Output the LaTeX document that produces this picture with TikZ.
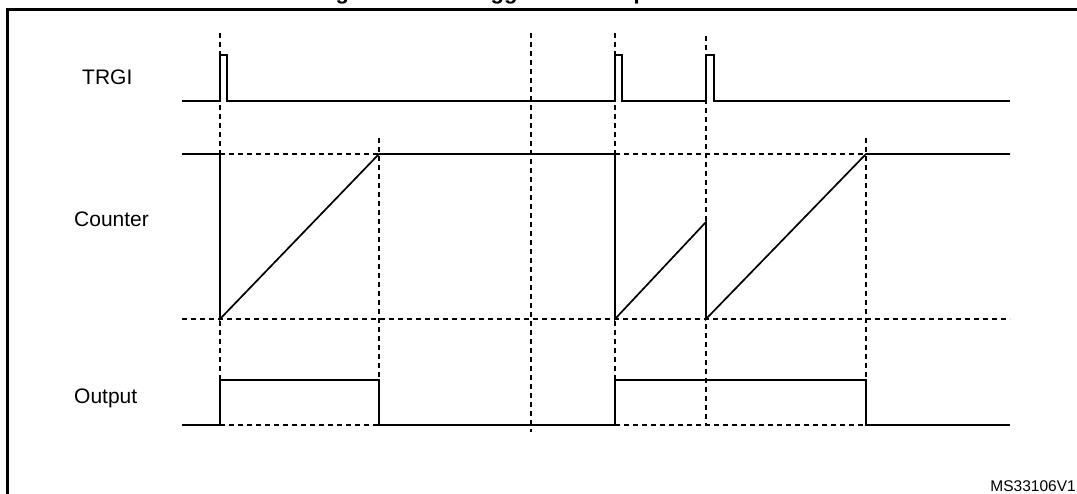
\documentclass[tikz,border=0pt]{standalone}
\usepackage{fontspec}
\setmainfont{Liberation Sans}
\begin{document}
\begin{tikzpicture}[x=1pt,y=-1pt,
  sig/.style={line width=1.7pt,line join=miter},
  guide/.style={line width=1.4pt,dash pattern=on 5pt off 4pt},
  frameline/.style={line width=2.2pt},
  lbl/.style={anchor=base west,inner sep=0pt,font=\fontsize{21}{25}\selectfont},
  ref/.style={anchor=base east,inner sep=0pt,font=\fontsize{15.5}{18}\selectfont},
  ttl/.style={anchor=base,inner sep=0pt,font=\bfseries\fontsize{22}{26}\selectfont}]
\useasboundingbox (0,0) rectangle (1077,493);
\fill[white] (0,0) rectangle (1077,493);
% title (cut off at top)
\node[ttl] (title) at (536,-0.5) {Figure 143. Retriggerable one pulse mode};
% frame
\draw[frameline] (7.5,520) -- (7.5,9.5) -- (1100,9.5);
% labels
\node[lbl] (trgi) at (82,84) {TRGI};
\node[lbl] (counter) at (74,226) {Counter};
\node[lbl] (output) at (74,403) {Output};
\node[ref] (msref) at (1076,491.5) {MS33106V1};
% vertical guides
\draw[guide] (220,33) -- (220,380);
\draw[guide] (379,138) -- (379,425);
\draw[guide] (531,33) -- (531,432);
\draw[guide] (615,33) -- (615,380);
\draw[guide] (706,36) -- (706,425);
\draw[guide] (866,138) -- (866,380);
% horizontal guides
\draw[guide] (220,154) -- (379,154);
\draw[guide] (615,154) -- (866,154);
\draw[guide] (182,319) -- (1010,319);
\draw[guide] (220,425) -- (379,425);
\draw[guide] (615,425) -- (866,425);
% TRGI
\draw[sig] (182,101) -- (220,101) -- (220,55) -- (227,55) -- (227,101)
  -- (615,101) -- (615,55) -- (622,55) -- (622,101)
  -- (706,101) -- (706,55) -- (714,55) -- (714,101) -- (1010,101);
% Counter
\draw[sig] (182,154) -- (220,154);
\draw[sig] (220,154) -- (220,319) -- (379,154) -- (615,154) -- (615,319)
  -- (706,222) -- (706,319) -- (866,154) -- (1010,154);
% Output
\draw[sig] (182,425) -- (220,425) -- (220,380) -- (379,380) -- (379,425)
  -- (615,425) -- (615,380) -- (866,380) -- (866,425) -- (1010,425);
\end{tikzpicture}
\end{document}
